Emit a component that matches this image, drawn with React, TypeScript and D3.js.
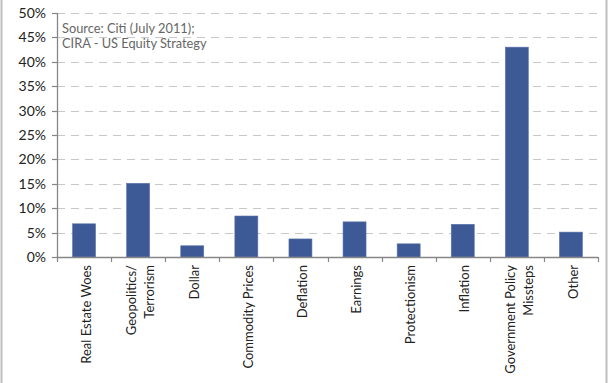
import React from "react";
import * as d3 from "d3";

const categories: string[][] = [
  ["Real Estate Woes"],
  ["Geopolitics/", "Terrorism"],
  ["Dollar"],
  ["Commodity Prices"],
  ["Deflation"],
  ["Earnings"],
  ["Protectionism"],
  ["Inflation"],
  ["Government Policy", "Missteps"],
  ["Other"],
];
const values: number[] = [6.8, 15.1, 2.3, 8.4, 3.7, 7.2, 2.7, 6.7, 43.0, 5.1];
const yTicks: number[] = [0, 5, 10, 15, 20, 25, 30, 35, 40, 45, 50];
const sourceLines: string[] = ["Source: Citi (July 2011);", "CIRA - US Equity Strategy"];

const W = 608;
const H = 383;
const left = 57;
const right = 598;
const top = 13;
const bottom = 257;
const font = "Lato, 'Liberation Sans', sans-serif";

export default function App() {
  const keys = categories.map((_, i) => String(i));
  const x = d3.scaleBand<string>().domain(keys).range([left, right]).paddingInner(0.575).paddingOuter(0.2875);
  const xb = d3.scaleBand<string>().domain(keys).range([left, right]);
  const y = d3.scaleLinear().domain([0, 50]).range([bottom, top]);

  return (
    <svg width={W} height={H} style={{ position: "absolute", left: 0, top: 0, background: "#fff" }} fontFamily={font}>
      <rect x={0} y={0} width={W} height={H} fill="#fff" />
      <line x1={1.5} x2={1.5} y1={0} y2={H} stroke="#bdbdbd" strokeWidth={2} />
      <line x1={606.5} x2={606.5} y1={0} y2={H} stroke="#bdbdbd" strokeWidth={2} />
      {yTicks.filter((t) => t > 0).map((t) => (
        <line key={"g" + t} x1={left} x2={right} y1={Math.round(y(t)) + 0.5} y2={Math.round(y(t)) + 0.5} stroke="#c8c8c8" strokeWidth={1.2} strokeDasharray="8,6" />
      ))}
      {values.map((v, i) => (
        <rect key={"b" + i} x={x(String(i))} y={y(v)} width={x.bandwidth()} height={y(0) - y(v)} fill="#3e5a96" stroke="#5a73a8" strokeWidth={0.6} />
      ))}
      <line x1={left + 0.5} x2={left + 0.5} y1={top} y2={bottom} stroke="#868686" strokeWidth={1.3} />
      <line x1={left} x2={right} y1={bottom + 0.5} y2={bottom + 0.5} stroke="#868686" strokeWidth={1.3} />
      {yTicks.map((t) => (
        <g key={"t" + t}>
          <line x1={52} x2={left} y1={Math.round(y(t)) + 0.5} y2={Math.round(y(t)) + 0.5} stroke="#868686" strokeWidth={1.2} />
          <text x={46} y={y(t)} dy="0.36em" textAnchor="end" fontSize={14} fill="#222">{t}%</text>
        </g>
      ))}
      {d3.range(categories.length + 1).map((i) => {
        const xx = Math.round(left + xb.bandwidth() * i) + 0.5;
        return <line key={"xt" + i} x1={xx} x2={xx} y1={bottom} y2={bottom + 5} stroke="#868686" strokeWidth={1.2} />;
      })}
      {categories.map((lines, i) => {
        const cx = (xb(String(i)) as number) + xb.bandwidth() / 2 + 2;
        const gap = 18;
        return lines.map((ln, j) => {
          const lx = cx + (j - (lines.length - 1) / 2) * gap;
          return (
            <text key={"l" + i + "-" + j} transform={`translate(${lx},265) rotate(-90)`} textAnchor="end" dy="0.36em" fontSize={13} fill="#222">
              {ln}
            </text>
          );
        });
      })}
      {sourceLines.map((s, i) => (
        <text key={"s" + i} x={62} y={32.5 + i * 15} fontSize={12.8} fill="#666">{s}</text>
      ))}
    </svg>
  );
}
